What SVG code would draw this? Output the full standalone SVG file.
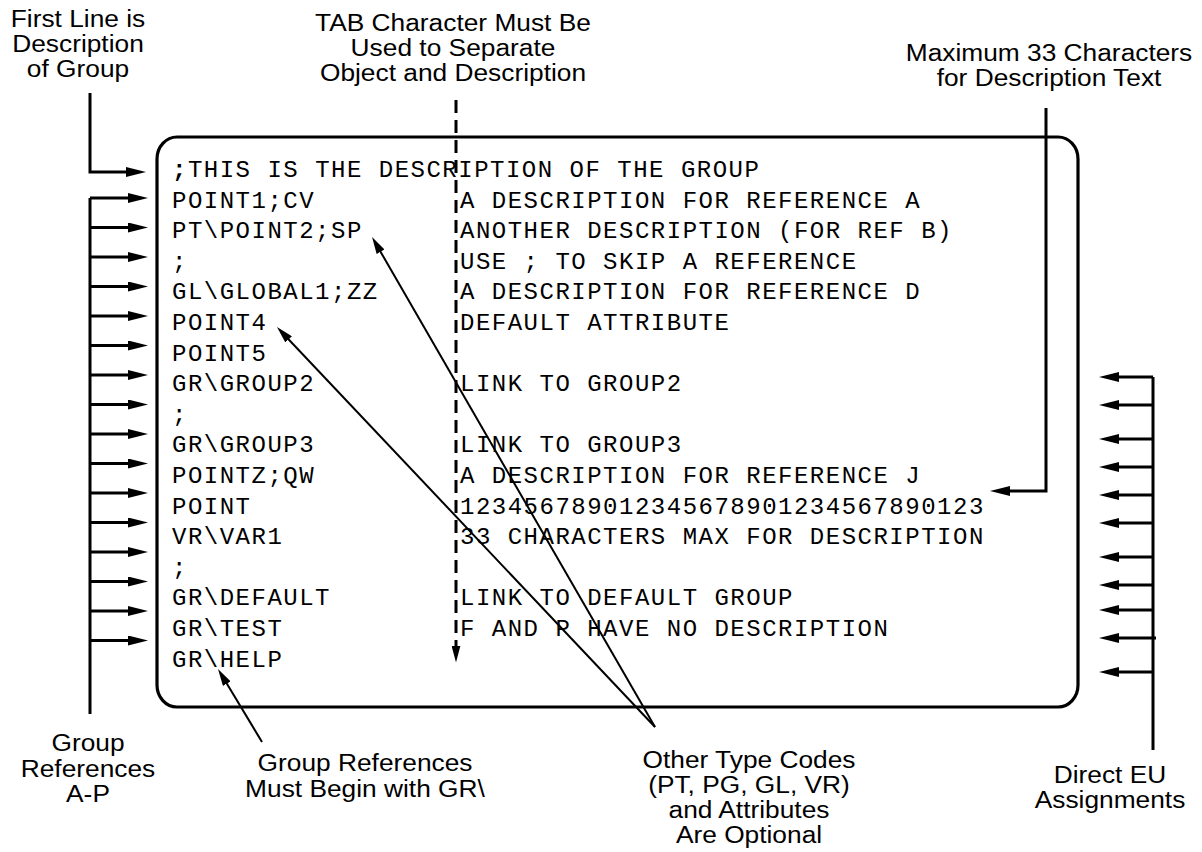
<svg xmlns="http://www.w3.org/2000/svg" width="1202" height="852" viewBox="0 0 1202 852">
<style>
.lbl{font-family:"Liberation Sans",Arial,sans-serif;font-size:23.5px;fill:#000;text-anchor:middle}
.code{font-family:"Liberation Mono","Courier New",monospace;font-size:24px;letter-spacing:1.5px;fill:#000;white-space:pre}
.ln{fill:none;stroke:#000;stroke-width:3}
.thin{fill:none;stroke:#000;stroke-width:2}
.dash{fill:none;stroke:#000;stroke-width:3;stroke-dasharray:13 7}
.box{fill:none;stroke:#000;stroke-width:3.2}
</style>
<defs>
<marker id="ah" viewBox="0 0 20 10" markerWidth="20" markerHeight="10" markerUnits="userSpaceOnUse" refX="10" refY="5" orient="auto"><path d="M0,0 L20,5 L0,10 z" fill="#000"/></marker>
<marker id="ahs" viewBox="0 0 17 9" markerWidth="17" markerHeight="9" markerUnits="userSpaceOnUse" refX="8.5" refY="4.5" orient="auto"><path d="M0,0 L17,4.5 L0,9 z" fill="#000"/></marker>
</defs>

<g id="listing-box">
<rect class="box" x="157" y="137" width="921" height="570" rx="20" ry="22"/>
<text class="code" x="172" y="177"><tspan font-weight="bold">;</tspan>THIS IS THE DESCRIPTION OF THE GROUP</text>
<text class="code" x="172" y="207.6">POINT1;CV</text>
<text class="code" x="172" y="238.2">PT\POINT2;SP</text>
<text class="code" x="172" y="268.8">;</text>
<text class="code" x="172" y="299.4">GL\GLOBAL1;ZZ</text>
<text class="code" x="172" y="330">POINT4</text>
<text class="code" x="172" y="360.6">POINT5</text>
<text class="code" x="172" y="391.2">GR\GROUP2</text>
<text class="code" x="172" y="421.8">;</text>
<text class="code" x="172" y="452.4">GR\GROUP3</text>
<text class="code" x="172" y="483">POINTZ;QW</text>
<text class="code" x="172" y="513.6">POINT</text>
<text class="code" x="172" y="544.2">VR\VAR1</text>
<text class="code" x="172" y="574.8">;</text>
<text class="code" x="172" y="605.4">GR\DEFAULT</text>
<text class="code" x="172" y="636">GR\TEST</text>
<text class="code" x="172" y="666.6">GR\HELP</text>
<text class="code" x="460" y="207.6">A DESCRIPTION FOR REFERENCE A</text>
<text class="code" x="460" y="238.2">ANOTHER DESCRIPTION (FOR REF B)</text>
<text class="code" x="460" y="268.8">USE ; TO SKIP A REFERENCE</text>
<text class="code" x="460" y="299.4">A DESCRIPTION FOR REFERENCE D</text>
<text class="code" x="460" y="330">DEFAULT ATTRIBUTE</text>
<text class="code" x="460" y="391.2">LINK TO GROUP2</text>
<text class="code" x="460" y="452.4">LINK TO GROUP3</text>
<text class="code" x="460" y="483">A DESCRIPTION FOR REFERENCE J</text>
<text class="code" x="460" y="513.6">123456789012345678901234567890123</text>
<text class="code" x="460" y="544.2">33 CHARACTERS MAX FOR DESCRIPTION</text>
<text class="code" x="460" y="605.4">LINK TO DEFAULT GROUP</text>
<text class="code" x="460" y="636">F AND P HAVE NO DESCRIPTION</text>
</g>

<g id="label-first-line" transform="translate(78,0) scale(1.12,1)">
<text class="lbl" x="0" y="27">First Line is</text>
<text class="lbl" x="0" y="52">Description</text>
<text class="lbl" x="0" y="77">of Group</text>
</g>
<g id="label-tab" transform="translate(453,0) scale(1.12,1)">
<text class="lbl" x="0" y="31">TAB Character Must Be</text>
<text class="lbl" x="0" y="56">Used to Separate</text>
<text class="lbl" x="0" y="81">Object and Description</text>
</g>
<g id="label-max" transform="translate(1049,0) scale(1.12,1)">
<text class="lbl" x="0" y="61">Maximum 33 Characters</text>
<text class="lbl" x="0" y="86">for Description Text</text>
</g>
<g id="label-group-refs" transform="translate(88,0) scale(1.12,1)">
<text class="lbl" x="0" y="751">Group</text>
<text class="lbl" x="0" y="777">References</text>
<text class="lbl" x="0" y="802">A-P</text>
</g>
<g id="label-gr" transform="translate(365,0) scale(1.12,1)">
<text class="lbl" x="0" y="771">Group References</text>
<text class="lbl" x="0" y="797">Must Begin with GR\</text>
</g>
<g id="label-other" transform="translate(749,0) scale(1.12,1)">
<text class="lbl" x="0" y="768">Other Type Codes</text>
<text class="lbl" x="0" y="793">(PT, PG, GL, VR)</text>
<text class="lbl" x="0" y="818">and Attributes</text>
<text class="lbl" x="0" y="843">Are Optional</text>
</g>
<g id="label-direct" transform="translate(1110,0) scale(1.12,1)">
<text class="lbl" x="0" y="783">Direct EU</text>
<text class="lbl" x="0" y="808">Assignments</text>
</g>

<g id="connectors">
<path class="ln" d="M90,93 V172 H136" marker-end="url(#ah)"/>
<path class="ln" d="M90,714 V198"/>
<path class="ln" d="M90,198 H138" marker-end="url(#ah)"/>
<path class="ln" d="M90,227.5 H138" marker-end="url(#ah)"/>
<path class="ln" d="M90,257 H138" marker-end="url(#ah)"/>
<path class="ln" d="M90,286.5 H138" marker-end="url(#ah)"/>
<path class="ln" d="M90,316 H138" marker-end="url(#ah)"/>
<path class="ln" d="M90,345.5 H138" marker-end="url(#ah)"/>
<path class="ln" d="M90,375 H138" marker-end="url(#ah)"/>
<path class="ln" d="M90,404.5 H138" marker-end="url(#ah)"/>
<path class="ln" d="M90,434 H138" marker-end="url(#ah)"/>
<path class="ln" d="M90,463.5 H138" marker-end="url(#ah)"/>
<path class="ln" d="M90,493 H138" marker-end="url(#ah)"/>
<path class="ln" d="M90,522.5 H138" marker-end="url(#ah)"/>
<path class="ln" d="M90,552 H138" marker-end="url(#ah)"/>
<path class="ln" d="M90,581.5 H138" marker-end="url(#ah)"/>
<path class="ln" d="M90,611 H138" marker-end="url(#ah)"/>
<path class="ln" d="M90,640.5 H138" marker-end="url(#ah)"/>

<path class="ln" d="M1153,377 V750"/>
<path class="ln" d="M1153,377 H1109" marker-end="url(#ah)"/>
<path class="ln" d="M1153,405 H1109" marker-end="url(#ah)"/>
<path class="ln" d="M1153,439 H1109" marker-end="url(#ah)"/>
<path class="ln" d="M1153,467 H1109" marker-end="url(#ah)"/>
<path class="ln" d="M1153,495 H1109" marker-end="url(#ah)"/>
<path class="ln" d="M1153,523 H1109" marker-end="url(#ah)"/>
<path class="ln" d="M1153,557 H1109" marker-end="url(#ah)"/>
<path class="ln" d="M1153,585 H1109" marker-end="url(#ah)"/>
<path class="ln" d="M1153,610 H1109" marker-end="url(#ah)"/>
<path class="ln" d="M1156,638 H1109" marker-end="url(#ah)"/>
<path class="ln" d="M1153,672 H1109" marker-end="url(#ah)"/>

<path class="ln" d="M1046,108 V491 H1000" marker-end="url(#ah)"/>

<path class="dash" d="M456,100 V654"/>
<path class="ln" d="M456,650 V654" marker-end="url(#ahs)"/>

<path class="thin" d="M655,727 L376.3,244.4" marker-end="url(#ahs)"/>
<path class="thin" d="M655,727 L282.8,333.2" marker-end="url(#ahs)"/>
<path class="thin" d="M262,742 L222.4,676.3" marker-end="url(#ahs)"/>
</g>
</svg>
